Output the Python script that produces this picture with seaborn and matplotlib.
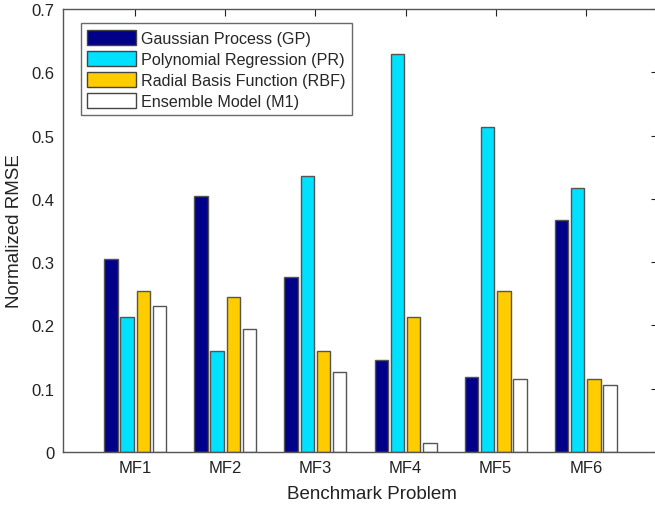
import matplotlib
matplotlib.use("Agg")
import matplotlib.pyplot as plt
import seaborn as sns
import pandas as pd

problems = ["MF1", "MF2", "MF3", "MF4", "MF5", "MF6"]
models = ["Gaussian Process (GP)", "Polynomial Regression (PR)",
          "Radial Basis Function (RBF)", "Ensemble Model (M1)"]
gp = [0.305, 0.404, 0.277, 0.145, 0.119, 0.366]
pr = [0.213, 0.159, 0.436, 0.629, 0.514, 0.417]
rbf = [0.254, 0.245, 0.160, 0.214, 0.254, 0.115]
m1 = [0.231, 0.195, 0.127, 0.015, 0.115, 0.106]
colors = ["#000088", "#00E0FF", "#FFCC00", "#FFFFFF"]
yticks = [0, 0.1, 0.2, 0.3, 0.4, 0.5, 0.6, 0.7]
ytick_labels = ["0", "0.1", "0.2", "0.3", "0.4", "0.5", "0.6", "0.7"]

rows = []
for name, vals in zip(models, [gp, pr, rbf, m1]):
    for p, v in zip(problems, vals):
        rows.append({"Problem": p, "Model": name, "RMSE": v})
df = pd.DataFrame(rows)

sns.set_style("white")
plt.rcParams["font.family"] = ["Liberation Sans", "DejaVu Sans"]

fig = plt.figure(figsize=(6.55, 5.06), dpi=100)
ax = fig.add_axes([63 / 655, 1 - 453 / 506, (658 - 63) / 655, (453 - 10) / 506])

sns.barplot(data=df, x="Problem", y="RMSE", hue="Model", hue_order=models,
            order=problems, palette=colors, width=0.72, gap=0.17,
            edgecolor="#555555", linewidth=1.0, ax=ax, errorbar=None,
            saturation=1)

ax.set_xlim(-0.8, 5.8)
ax.set_ylim(0, 0.7)
ax.set_yticks(yticks)
ax.set_yticklabels(ytick_labels)
ax.set_xlabel("Benchmark Problem", fontsize=13.5, color="#222222")
ax.xaxis.set_label_coords(0.519, -0.075)
ax.set_ylabel("Normalized RMSE", fontsize=13.5, color="#222222", labelpad=6)
ax.tick_params(direction="in", length=5, width=0.8, top=True, right=True,
               labelsize=12, colors="#222222", pad=6)
for s in ax.spines.values():
    s.set_visible(True)
    s.set_color("#555555")
    s.set_linewidth(1.0)

leg = ax.legend(loc="upper left", bbox_to_anchor=(18 / 595, 0.968), fontsize=11.6,
                frameon=True, fancybox=False, edgecolor="#444444",
                borderaxespad=0.0,
                handlelength=3.0, handleheight=1.05, labelspacing=0.32,
                borderpad=0.4, handletextpad=0.35)
leg.get_frame().set_linewidth(1.0)
for h in leg.legend_handles:
    h.set_edgecolor("#444444")

fig.savefig("out.png", dpi=100)
